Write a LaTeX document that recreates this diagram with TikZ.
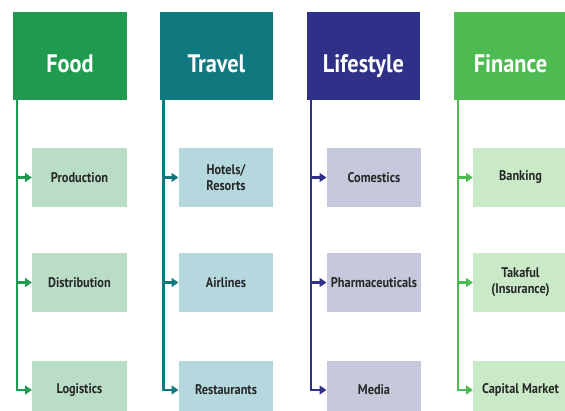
\documentclass[tikz,border=0pt]{standalone}
\usepackage{fontspec}
\setmainfont{PT Sans}[FakeStretch=0.88]
\usepackage{tikz}
\usetikzlibrary{arrows.meta}

\definecolor{foodhead}{RGB}{31,154,79}
\definecolor{foodkid}{RGB}{186,221,197}
\definecolor{travelhead}{RGB}{16,121,128}
\definecolor{travelkid}{RGB}{181,215,222}
\definecolor{lifehead}{RGB}{46,49,135}
\definecolor{lifekid}{RGB}{198,200,219}
\definecolor{finhead}{RGB}{78,187,82}
\definecolor{finkid}{RGB}{202,233,198}
\definecolor{kidtext}{RGB}{38,40,40}

\begin{document}
\begin{tikzpicture}[x=0.75pt,y=-0.75pt,
    head/.style={rectangle,minimum width=85pt,minimum height=66pt,
        text height=24pt,text depth=0pt,
        text=white,font=\bfseries\fontsize{19}{20}\selectfont,inner sep=0pt},
    kid/.style={rectangle,minimum width=71pt,minimum height=44pt,align=center,
        text=kidtext,font=\bfseries\fontsize{10.5}{12}\selectfont,inner sep=0pt},
    trunk/.style={line width=1.6pt},
    branch/.style={line width=1.6pt,-{Triangle[length=5pt,width=6.5pt]}}]
    \useasboundingbox[fill=white] (0,0) rectangle (565,411);

    % Food
    \node[head,fill=foodhead] (food) at (70,56) {Food};
    \node[kid,fill=foodkid] (food1) at (79.5,177.5) {Production};
    \node[kid,fill=foodkid] (food2) at (79.5,282.5) {Distribution};
    \node[kid,fill=foodkid] (food3) at (79.5,390) {Logistics};
    \coordinate (foodtrunk) at (17,100);
    \draw[trunk,foodhead] (foodtrunk) -- (foodtrunk |- food3);
    \draw[branch,foodhead] (foodtrunk |- food1) -- (food1);
    \draw[branch,foodhead] (foodtrunk |- food2) -- (food2);
    \draw[branch,foodhead] (foodtrunk) |- (food3);

    % Travel
    \node[head,fill=travelhead] (travel) at (216.5,56) {Travel};
    \node[kid,fill=travelkid] (travel1) at (226,177.5) {Hotels/\\Resorts};
    \node[kid,fill=travelkid] (travel2) at (226,282.5) {Airlines};
    \node[kid,fill=travelkid] (travel3) at (226,390) {Restaurants};
    \coordinate (traveltrunk) at (163.5,100);
    \draw[trunk,travelhead] (traveltrunk) -- (traveltrunk |- travel3);
    \draw[branch,travelhead] (traveltrunk |- travel1) -- (travel1);
    \draw[branch,travelhead] (traveltrunk |- travel2) -- (travel2);
    \draw[branch,travelhead] (traveltrunk) |- (travel3);

    % Lifestyle
    \node[head,fill=lifehead] (life) at (363.5,56) {Lifestyle};
    \node[kid,fill=lifekid] (life1) at (374,177.5) {Comestics};
    \node[kid,fill=lifekid] (life2) at (374,282.5) {Pharmaceuticals};
    \node[kid,fill=lifekid] (life3) at (374,390) {Media};
    \coordinate (lifetrunk) at (311,100);
    \draw[trunk,lifehead] (lifetrunk) -- (lifetrunk |- life3);
    \draw[branch,lifehead] (lifetrunk |- life1) -- (life1);
    \draw[branch,lifehead] (lifetrunk |- life2) -- (life2);
    \draw[branch,lifehead] (lifetrunk) |- (life3);

    % Finance
    \node[head,fill=finhead] (fin) at (510.5,56) {Finance};
    \node[kid,fill=finkid] (fin1) at (520.5,177.5) {Banking};
    \node[kid,fill=finkid] (fin2) at (520.5,282.5) {Takaful\\(Insurance)};
    \node[kid,fill=finkid] (fin3) at (520.5,390) {Capital Market};
    \coordinate (fintrunk) at (458,100);
    \draw[trunk,finhead] (fintrunk) -- (fintrunk |- fin3);
    \draw[branch,finhead] (fintrunk |- fin1) -- (fin1);
    \draw[branch,finhead] (fintrunk |- fin2) -- (fin2);
    \draw[branch,finhead] (fintrunk) |- (fin3);

\end{tikzpicture}
\end{document}
